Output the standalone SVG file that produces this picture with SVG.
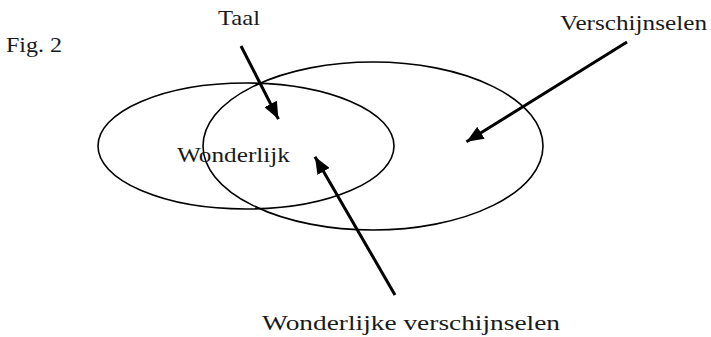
<svg xmlns="http://www.w3.org/2000/svg" width="711" height="337" viewBox="0 0 711 337">
<style>
.lbl{font-family:"Liberation Serif","Times New Roman",serif;font-size:22px;fill:#1a1a1a}
.ell{fill:none;stroke:#000;stroke-width:1.6}
.arr{stroke:#000;stroke-width:3;fill:none}
</style>
<defs>
<marker id="ah" markerUnits="userSpaceOnUse" markerWidth="18" markerHeight="14" refX="17" refY="7" orient="auto">
<path d="M0,0 L17,7 L0,14 z" fill="#000"/>
</marker>
</defs>
<rect width="711" height="337" fill="#fff"/>
<g id="fig-label"><text class="lbl" x="6" y="52" textLength="56" lengthAdjust="spacingAndGlyphs">Fig. 2</text></g>
<g id="taal-set"><ellipse class="ell" cx="246" cy="146" rx="148" ry="63"/></g>
<g id="verschijnselen-set"><ellipse class="ell" cx="373" cy="146" rx="170" ry="84"/></g>
<g id="taal"><text class="lbl" x="218" y="25" textLength="42" lengthAdjust="spacingAndGlyphs">Taal</text></g>
<g id="verschijnselen"><text class="lbl" x="560" y="30" textLength="147" lengthAdjust="spacingAndGlyphs">Verschijnselen</text></g>
<g id="wonderlijk"><text class="lbl" x="177" y="162" textLength="113" lengthAdjust="spacingAndGlyphs">Wonderlijk</text></g>
<g id="wonderlijke-verschijnselen"><text class="lbl" x="262" y="330" textLength="298" lengthAdjust="spacingAndGlyphs">Wonderlijke verschijnselen</text></g>
<g id="connectors">
<line class="arr" x1="241" y1="46" x2="278.4" y2="119.1" marker-end="url(#ah)"/>
<line class="arr" x1="627" y1="42" x2="466.5" y2="141.7" marker-end="url(#ah)"/>
<line class="arr" x1="395" y1="295" x2="315" y2="156.7" marker-end="url(#ah)"/>
</g>
</svg>
